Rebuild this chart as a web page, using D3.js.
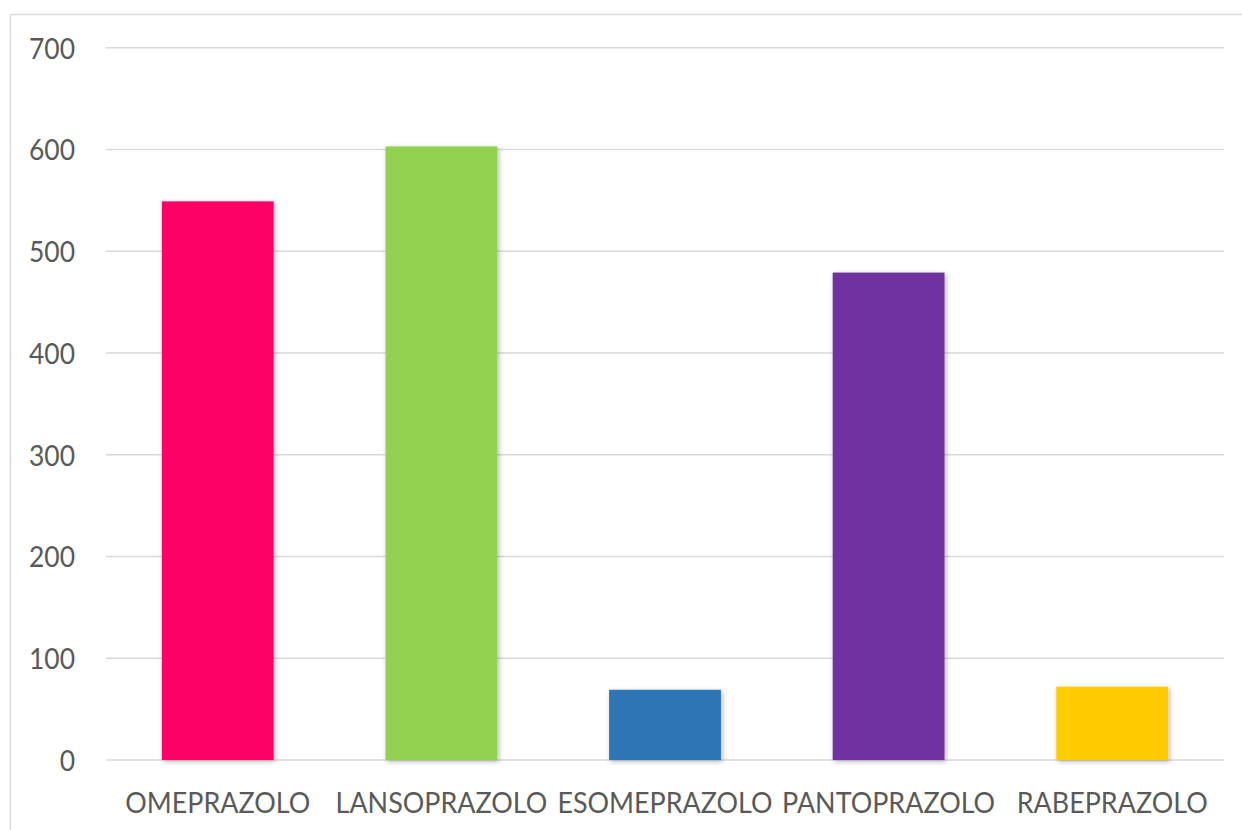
<!DOCTYPE html>
<html>
<head>
<meta charset="utf-8">
<script src="https://cdn.jsdelivr.net/npm/d3@7"></script>
<style>
  html, body { margin: 0; padding: 0; background: #fff; }
  svg { display: block; }
  text { font-family: Lato, "Open Sans", sans-serif; fill: #595959; }
</style>
</head>
<body>
<svg id="chart" width="1242" height="830"></svg>
<script>
const categories = ["OMEPRAZOLO", "LANSOPRAZOLO", "ESOMEPRAZOLO", "PANTOPRAZOLO", "RABEPRAZOLO"];
const values = [549, 603, 69, 479, 72];
const colors = ["#FF0066", "#92D050", "#2E75B6", "#7030A0", "#FFCC00"];
const yTicks = [0, 100, 200, 300, 400, 500, 600, 700];

const svg = d3.select("#chart");
const plot = { left: 106, right: 1224, top: 47.7, bottom: 760 };
const FONT = "Lato, 'Open Sans', sans-serif";

// outer frame
svg.append("rect")
  .attr("x", 10.5).attr("y", 14.5)
  .attr("width", 1400).attr("height", 1000)
  .attr("fill", "none").attr("stroke", "#d9d9d9").attr("stroke-width", 1.5);

const defs = svg.append("defs");
const f = defs.append("filter").attr("id", "shadow")
  .attr("x", "-20%").attr("y", "-20%").attr("width", "140%").attr("height", "140%");
f.append("feDropShadow").attr("dx", 1.5).attr("dy", 1.5).attr("stdDeviation", 2.5)
  .attr("flood-color", "#000").attr("flood-opacity", 0.3);

const x = d3.scaleBand().domain(categories)
  .range([plot.left, plot.right]).paddingInner(0.5).paddingOuter(0.25);
const y = d3.scaleLinear().domain([0, 700]).range([plot.bottom, plot.top]);

// gridlines
svg.append("g").selectAll("line").data(yTicks).join("line")
  .attr("x1", plot.left).attr("x2", plot.right)
  .attr("y1", d => y(d)).attr("y2", d => y(d))
  .attr("stroke", "#d9d9d9").attr("stroke-width", 1.5);

// y axis labels
const yAxis = d3.axisLeft(y).tickValues(yTicks).tickSize(0).tickPadding(0).tickFormat(d3.format("d"));
const gy = svg.append("g").attr("transform", "translate(75,0)").call(yAxis);
gy.select(".domain").remove();
gy.selectAll("text").attr("font-size", 29).attr("fill", "#595959")
  .attr("font-family", FONT).attr("dy", "0.36em");

// bars
svg.append("g").selectAll("rect").data(categories).join("rect")
  .attr("x", d => x(d))
  .attr("width", x.bandwidth())
  .attr("y", (d, i) => y(values[i]))
  .attr("height", (d, i) => y(0) - y(values[i]))
  .attr("fill", (d, i) => colors[i])
  .attr("filter", "url(#shadow)");

// x axis labels
const xAxis = d3.axisBottom(x).tickSize(0).tickPadding(0);
const gx = svg.append("g").attr("transform", "translate(0,813)").call(xAxis);
gx.select(".domain").remove();
gx.selectAll("text").attr("font-size", 29).attr("fill", "#595959")
  .attr("font-family", FONT).attr("dy", "0");

// condense glyphs horizontally to mimic the narrower original typeface
const xt = gx.selectAll("text").nodes();
const kx = 185 / xt[0].getComputedTextLength();
gx.selectAll("text").attr("transform", `scale(${kx},1)`);
const yt = gy.selectAll("text").nodes();
const ky = 46 / yt[yt.length - 1].getComputedTextLength();
gy.selectAll("text").attr("transform", `scale(${ky},1)`);
</script>
</body>
</html>
